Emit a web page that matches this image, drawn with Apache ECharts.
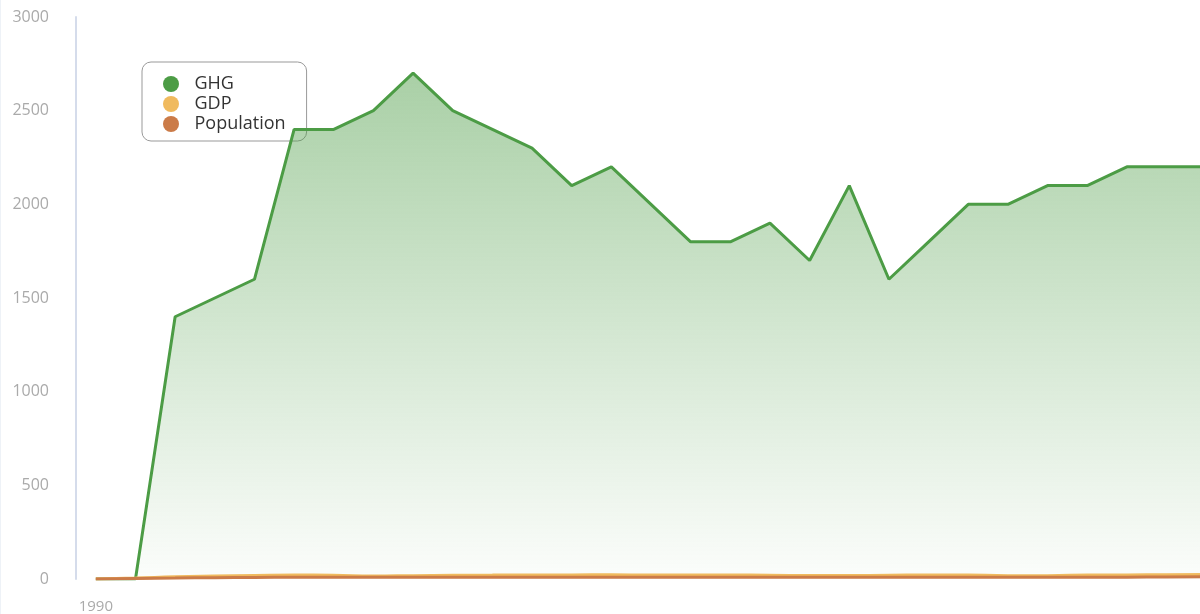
<!DOCTYPE html>
<html>
<head>
<meta charset="utf-8">
<script src="https://cdn.jsdelivr.net/npm/echarts@6/dist/echarts.min.js"></script>
<style>
html,body{margin:0;padding:0;background:#fff;overflow:hidden;width:1200px;height:614px;}
#chart{width:1240px;height:614px;box-sizing:border-box;border-left:1px solid #eef2f7;}
</style>
</head>
<body>
<div id="chart"></div>
<script>
const years = [1990,1991,1992,1993,1994,1995,1996,1997,1998,1999,2000,2001,2002,2003,2004,2005,2006,2007,2008,2009,2010,2011,2012,2013,2014,2015,2016,2017,2018];
const ghg = [0,0,1400,1500,1600,2400,2400,2500,2700,2500,2400,2300,2100,2200,2000,1800,1800,1900,1700,2100,1600,1800,2000,2000,2100,2100,2200,2200,2200];
const gdp = [0,5,12,16,19,21,20,16,18,20,21,22,22,23,21,21,21,20,19,19,20,22,21,18,18,21,22,23,24];
const population = [0,3,5,7,8,9,9,9,9,9,9,9,9,9,9,9,9,9,9,9,9,9,9,9,10,10,10,11,12];
const yTicks = [0,500,1000,1500,2000,2500,3000];

const chart = echarts.init(document.getElementById('chart'), null, {renderer:'canvas'});
const font = "'Open Sans', Lato, sans-serif";
chart.setOption({
  animation:false,
  textStyle:{fontFamily:font},
  legend:{
    orient:'vertical', left:141, top:62, z:1,
    padding:[13,21,8,21],
    borderColor:'#999', borderWidth:1, borderRadius:9,
    itemWidth:37, itemHeight:16, itemGap:2, icon:'circle',
    textStyle:{fontSize:18, color:'#333', fontFamily:font},
    data:['GHG','GDP','Population']
  },
  grid:{left:75, right:14, top:17, bottom:34, containLabel:false},
  xAxis:{
    type:'category', data:years, boundaryGap:true,
    axisLine:{show:false}, axisTick:{show:false},
    axisLabel:{color:'#aaa', fontSize:15, margin:20, interval:(i)=>i===0, fontFamily:font}
  },
  yAxis:{
    type:'value', min:yTicks[0], max:yTicks[yTicks.length-1], interval:500,
    axisLine:{show:true, lineStyle:{color:'#d5dceb', width:2}},
    axisTick:{show:false}, splitLine:{show:false},
    axisLabel:{color:'#aaa', fontSize:16, margin:27, fontFamily:font, formatter:(v)=>String(v)}
  },
  series:[
    {name:'GHG', type:'line', data:ghg, symbol:'none', color:'#4C9C45', z:3,
     lineStyle:{width:3, color:'#4C9C45'},
     areaStyle:{opacity:1, color:new echarts.graphic.LinearGradient(0,0,0,1,[
       {offset:0,color:'rgba(76,156,69,0.48)'},
       {offset:1,color:'rgba(76,156,69,0.02)'}])}},
    {name:'GDP', type:'line', data:gdp, symbol:'none', smooth:true, color:'#F0BA5E', z:3,
     lineStyle:{width:3, color:'#F0BA5E'}},
    {name:'Population', type:'line', data:population, symbol:'none', smooth:true, color:'#CB7B48', z:3,
     lineStyle:{width:3, color:'#CB7B48'}}
  ]
});
</script>
</body>
</html>
